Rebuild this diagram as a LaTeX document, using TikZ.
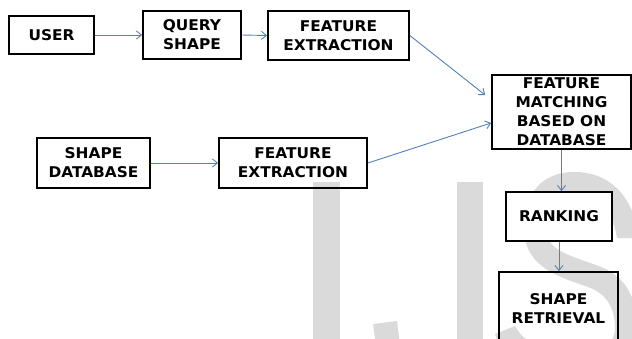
\documentclass[tikz,border=0pt]{standalone}
\usepackage{fontspec}
\usetikzlibrary{arrows.meta,calc}
\newfontfamily\lbl{DejaVu Sans}[FakeStretch=1.04]
\definecolor{arrowblue}{RGB}{79,129,189}
\definecolor{wmgray}{RGB}{218,218,218}
\begin{document}
\begin{tikzpicture}[x=1pt,y=-1pt,
  box/.style={draw=black,line width=1.7pt,inner sep=0pt,align=center,
    font=\lbl\bfseries\fontsize{14.8}{19}\selectfont},
  flow/.style={draw=arrowblue,line width=0.9pt,-{Straight Barb[length=5pt,width=8pt]}},
  wm/.style={fill=wmgray}]
\useasboundingbox (0,0) rectangle (632,338);
% watermark
\fill[wm] (313,182) rectangle (340,345);
\fill[wm] (457,182) rectangle (483,345);
\fill[wm] (373,324) -- (397,321) -- (400,345) -- (376,345) -- cycle;
\fill[wm] (639,238) .. controls (633,192) and (606,172) .. (575,172)
  .. controls (541,172) and (524,194) .. (524,228)
  .. controls (524,266) and (556,276) .. (588,287)
  .. controls (608,294) and (615,310) .. (615,328)
  .. controls (615,348) and (594,353) .. (570,353)
  .. controls (545,353) and (524,343) .. (515,326)
  -- (495,334)
  .. controls (504,362) and (535,375) .. (570,375)
  .. controls (605,375) and (637,365) .. (637,328)
  .. controls (637,300) and (628,276) .. (596,265)
  .. controls (568,255) and (546,250) .. (546,228)
  .. controls (546,206) and (555,194) .. (575,194)
  .. controls (598,194) and (611,204) .. (617,238)
  -- cycle;
% boxes
\node[box,minimum width=85pt,minimum height=38pt] (user) at (51.5,35) {USER};
\node[box,minimum width=98pt,minimum height=48pt] (query) at (192,35) {QUERY\\SHAPE};
\node[box,minimum width=141pt,minimum height=49pt] (fe1) at (338.5,35.5) {FEATURE\\EXTRACTION};
\node[box,minimum width=113pt,minimum height=50pt] (sdb) at (93.5,163) {SHAPE\\DATABASE};
\node[box,minimum width=148pt,minimum height=50pt] (fe2) at (293,163) {FEATURE\\EXTRACTION};
\node[box,fill=white,minimum width=139pt,minimum height=74pt] (fmbd) at (561.5,112) {FEATURE\\MATCHING\\BASED ON\\DATABASE};
\node[box,fill=white,minimum width=106pt,minimum height=49pt] (rank) at (559,216.5) {RANKING};
\node[box,minimum width=119pt,minimum height=73pt] (sr) at (558.5,308.5) {SHAPE\\RETRIEVAL};
% connectors
\draw[flow] (user.east) -- (query.west);
\draw[flow] (query.east) -- (fe1.west);
\draw[flow] (fe1.east) -- ($(fmbd.west)+(-6,-17)$);
\draw[flow] (sdb.east) -- (fe2.west);
\draw[flow] (fe2.east) -- ($(fmbd.west)+(0,11)$);
\draw[flow] (fmbd.south) -- (fmbd.south |- rank.north);
\draw[flow] (rank.south) -- (rank.south |- sr.north);
\end{tikzpicture}
\end{document}
